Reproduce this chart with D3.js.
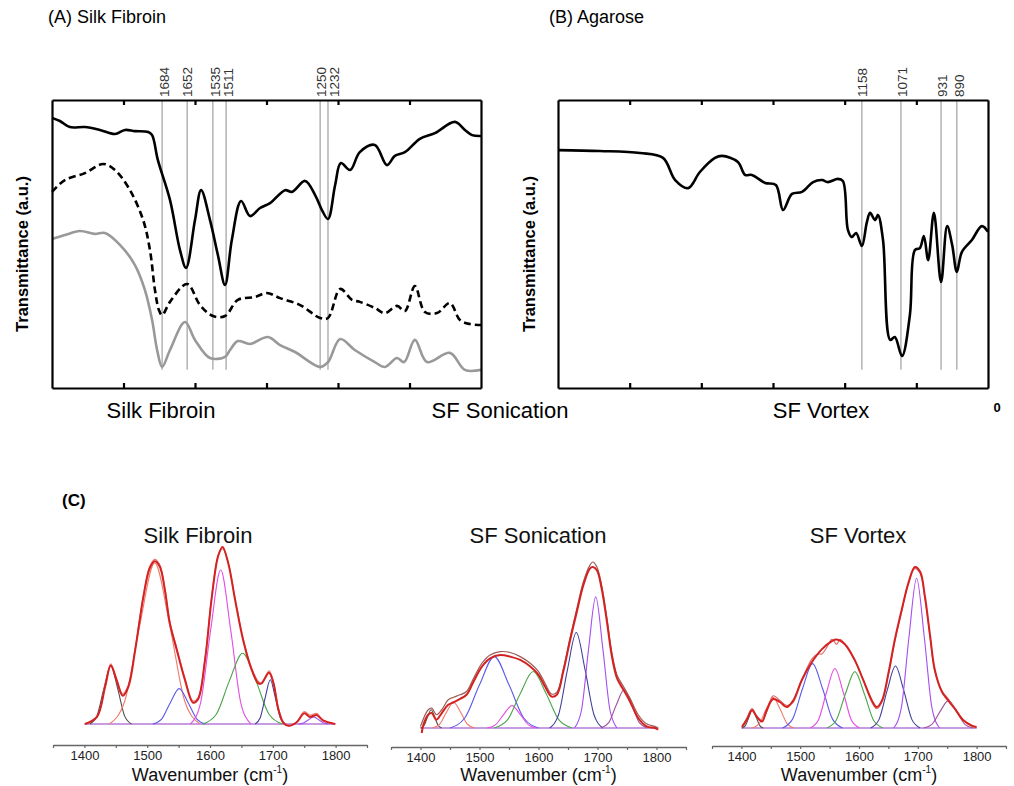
<!DOCTYPE html>
<html>
<head>
<meta charset="utf-8">
<script src="https://cdn.jsdelivr.net/npm/d3@7"></script>
<style>
  body { margin: 0; background: #fff; }
  svg { font-family: "Liberation Sans", Arial, sans-serif; }
</style>
</head>
<body>
<div id="chart"></div>
<script>
// ---- Panel A / B : FTIR transmittance spectra [wavenumber, T (a.u.)]
const silkFibroin = [[2000,93.8],[1978,92.7],[1950,90.6],[1908,90.6],[1866,89.6],[1824,88.2],[1796,89.6],[1768,89.2],[1731,88.9],[1720,87.8],[1704,79.2],[1670,65.3],[1642,47.9],[1625,41.7],[1600,58.3],[1583,68.7],[1558,58.3],[1536,46.2],[1516,35.8],[1497,51.4],[1471,64.9],[1446,59.7],[1418,62.5],[1390,64.2],[1348,68.7],[1329,68.1],[1292,71.9],[1264,67.0],[1245,61.8],[1228,58.7],[1208,70.5],[1192,78.1],[1166,75.7],[1139,81.9],[1097,84.4],[1063,77.4],[1041,80.6],[1013,81.9],[971,86.5],[929,88.5],[873,92.4],[845,89.6],[825,87.8],[800,87.5]];
const sfSonication = [[2000,68.1],[1964,72.2],[1908,74.6],[1857,77.8],[1824,75.7],[1782,68.7],[1745,58.3],[1726,47.9],[1712,34.0],[1701,27.1],[1692,25.3],[1670,29.9],[1622,36.1],[1586,28.8],[1550,25.0],[1516,25.0],[1480,30.6],[1432,31.6],[1399,33.0],[1362,31.2],[1306,28.8],[1250,24.3],[1228,24.3],[1194,34.4],[1161,30.6],[1139,29.9],[1097,27.8],[1069,26.0],[1035,28.5],[1013,26.7],[985,35.4],[957,26.4],[923,26.0],[887,29.5],[859,23.6],[831,22.2],[800,21.9]];
const sfVortex = [[2000,51.7],[1964,53.1],[1922,54.5],[1880,53.5],[1852,53.8],[1810,49.7],[1768,42.7],[1740,34.0],[1720,23.6],[1706,13.2],[1692,7.3],[1670,13.2],[1628,22.9],[1600,16.7],[1558,10.4],[1516,10.8],[1502,13.2],[1480,16.3],[1446,15.3],[1396,17.7],[1362,14.9],[1320,12.5],[1250,7.3],[1228,9.0],[1194,17.0],[1153,13.2],[1097,9.0],[1069,7.3],[1035,10.4],[1015,9.0],[985,16.7],[951,9.0],[887,12.2],[845,6.3],[800,6.3]];
const agarose = [[2000,82.6],[1883,82.3],[1771,81.6],[1707,79.9],[1673,72.2],[1637,69.4],[1604,75.0],[1562,79.9],[1542,80.6],[1498,78.5],[1478,74.0],[1459,74.0],[1422,71.2],[1392,70.5],[1372,61.8],[1347,67.4],[1319,68.1],[1288,71.5],[1263,72.2],[1247,71.5],[1219,72.6],[1205,71.9],[1191,54.9],[1180,52.4],[1168,53.8],[1152,49.3],[1138,57.6],[1129,60.8],[1115,58.3],[1107,60.1],[1093,51.4],[1073,16.7],[1060,17.7],[1040,11.1],[1018,25.3],[1004,47.9],[990,48.6],[979,52.8],[967,44.4],[951,60.8],[931,36.8],[914,56.2],[900,49.7],[887,40.3],[873,47.2],[845,51.4],[817,56.2],[800,54.2]];

const frameTicks = [1800, 1600, 1400, 1200, 1000];
const markPosA = [1692, 1622, 1550, 1513, 1250, 1228];
const markLabelPosA = [1686, 1622, 1544, 1508, 1246, 1212];
const markLabelA = ["1684", "1652", "1535", "1511", "1250", "1232"];
const markPosB = [1152, 1043, 931, 887];
const markLabelPosB = [1152, 1040, 928, 880];
const markLabelB = ["1158", "1071", "931", "890"];
const sampleNames = ["Silk Fibroin", "SF Sonication", "SF Vortex"];

// ---- Panel C : amide band deconvolution [wavenumber, intensity]
const fitTicks = [1350, 1400, 1450, 1500, 1550, 1600, 1650, 1700, 1750, 1800, 1850];

const measuredSF = [[1400,0],[1420,.04],[1433,.22],[1442,.34],[1451,.26],[1461,.17],[1470,.22],[1481,.43],[1494,.73],[1504,.89],[1512,.93],[1520,.90],[1528,.77],[1536,.58],[1547,.43],[1560,.26],[1573,.13],[1581,.15],[1592,.37],[1603,.73],[1613,.95],[1620,.99],[1629,.91],[1640,.71],[1653,.48],[1666,.32],[1677,.24],[1682,.23],[1694,.30],[1701,.24],[1709,.09],[1717,.01],[1725,-.01],[1738,.01],[1750,.07],[1759,.05],[1770,.06],[1780,.02],[1800,0]];
const fitSF = [[1401,0],[1420,.04],[1433,.21],[1442,.33],[1451,.25],[1461,.16],[1470,.21],[1481,.42],[1494,.72],[1504,.88],[1512,.92],[1520,.89],[1528,.76],[1536,.57],[1547,.42],[1560,.25],[1573,.12],[1581,.14],[1592,.36],[1603,.72],[1613,.95],[1620,1.0],[1629,.91],[1640,.70],[1653,.47],[1666,.31],[1677,.23],[1682,.23],[1694,.29],[1701,.23],[1709,.08],[1717,.005],[1725,-.01],[1738,.01],[1750,.06],[1759,.04],[1770,.05],[1780,.02],[1799,0]];
const peaksSF = [
  [[1409,0],[1420,.046],[1431,.20],[1442,.33],[1453,.20],[1464,.046],[1475,0]],
  [[1440,0],[1464,.127],[1488,.555],[1512,.91],[1536,.555],[1560,.127],[1584,0]],
  [[1509,0],[1523,.028],[1537,.122],[1551,.20],[1565,.122],[1579,.028],[1593,0]],
  [[1569,0],[1585,.12],[1601,.53],[1617,.87],[1633,.53],[1649,.12],[1665,0]],
  [[1589,0],[1610,.055],[1631,.245],[1652,.40],[1673,.245],[1694,.055],[1715,0]],
  [[1672,0],[1680,.035],[1688,.15],[1696,.25],[1704,.15],[1712,.035],[1720,0]],
  [[1741,0],[1749,.006],[1757,.024],[1765,.04],[1773,.024],[1781,.006],[1789,0]]
];
const peakColorsSF = ["#505050", "#f07a6a", "#5a5aea", "#e34ee3", "#4aa54a", "#3f3f9a", "#a64ef0"];

const measuredSon = [[1400,.01],[1413,.11],[1419,.12],[1427,.08],[1436,.11],[1447,.17],[1456,.185],[1467,.2],[1478,.22],[1490,.3],[1504,.39],[1518,.44],[1535,.46],[1552,.455],[1569,.43],[1586,.39],[1600,.34],[1611,.27],[1622,.205],[1631,.215],[1642,.355],[1653,.535],[1665,.72],[1676,.88],[1687,.98],[1692,1.0],[1699,.97],[1707,.86],[1716,.66],[1724,.46],[1733,.32],[1744,.25],[1755,.18],[1769,.08],[1783,.025],[1797,.01],[1803,0]];
const fitSon = [[1402,-.03],[1405,.02],[1413,.08],[1419,.09],[1427,.05],[1436,.09],[1447,.14],[1456,.155],[1467,.175],[1478,.2],[1490,.28],[1504,.37],[1518,.42],[1535,.44],[1552,.43],[1569,.41],[1586,.37],[1600,.32],[1611,.25],[1622,.19],[1631,.2],[1642,.34],[1653,.52],[1665,.70],[1676,.86],[1687,.96],[1692,.97],[1699,.95],[1707,.84],[1716,.64],[1724,.44],[1733,.30],[1744,.23],[1755,.16],[1769,.06],[1783,.01],[1797,0],[1803,-.01]];
const peaksSon = [
  [[1400,0],[1406,.015],[1412,.067],[1418,.11],[1424,.067],[1430,.015],[1436,0]],
  [[1420,0],[1432,.021],[1444,.095],[1456,.155],[1468,.095],[1480,.021],[1492,0]],
  [[1450,0],[1475,.06],[1500,.26],[1525,.43],[1550,.26],[1575,.06],[1600,0]],
  [[1513,0],[1527,.019],[1541,.082],[1555,.135],[1569,.082],[1583,.019],[1597,0]],
  [[1525,0],[1547,.047],[1569,.207],[1591,.34],[1613,.207],[1635,.047],[1657,0]],
  [[1619,0],[1634,.08],[1649,.35],[1664,.575],[1679,.35],[1694,.08],[1709,0]],
  [[1661,0],[1673,.11],[1685,.48],[1697,.79],[1709,.48],[1721,.11],[1733,0]],
  [[1706,0],[1719,.032],[1732,.14],[1745,.23],[1758,.14],[1771,.032],[1784,0]]
];
const peakColorsSon = ["#505050", "#f07a6a", "#5a5aea", "#e34ee3", "#4aa54a", "#3f3f9a", "#a64ef0", "#a0529a"];

const measuredVor = [[1401,.01],[1409,.06],[1418,.12],[1426,.075],[1435,.045],[1443,.1],[1454,.2],[1466,.17],[1477,.14],[1488,.16],[1503,.30],[1520,.43],[1530,.46],[1537,.46],[1545,.50],[1554,.55],[1562,.52],[1568,.55],[1576,.52],[1593,.42],[1607,.30],[1622,.16],[1630,.12],[1639,.16],[1650,.33],[1661,.54],[1673,.73],[1684,.90],[1695,.99],[1704,.96],[1712,.81],[1721,.56],[1729,.35],[1741,.23],[1752,.18],[1763,.12],[1777,.05],[1792,.01],[1800,0]];
const fitVor = [[1401,.006],[1409,.05],[1418,.11],[1426,.07],[1435,.04],[1443,.11],[1454,.18],[1466,.16],[1477,.13],[1488,.17],[1503,.30],[1520,.41],[1537,.49],[1554,.54],[1562,.55],[1576,.52],[1593,.42],[1607,.30],[1622,.17],[1630,.13],[1639,.17],[1650,.34],[1661,.55],[1673,.74],[1684,.90],[1695,1.0],[1704,.97],[1712,.82],[1721,.57],[1729,.36],[1741,.225],[1752,.17],[1763,.12],[1777,.05],[1792,.015],[1800,.006]];
const peaksVor = [
  [[1401,0],[1407,.016],[1413,.07],[1419,.115],[1425,.07],[1431,.016],[1437,0]],
  [[1418,0],[1430,.026],[1442,.116],[1454,.19],[1466,.116],[1478,.026],[1490,0]],
  [[1470,0],[1487,.055],[1504,.245],[1521,.40],[1538,.245],[1555,.055],[1572,0]],
  [[1517,0],[1531,.05],[1545,.225],[1559,.37],[1573,.225],[1587,.05],[1601,0]],
  [[1545,0],[1561,.047],[1577,.213],[1593,.35],[1609,.213],[1625,.047],[1641,0]],
  [[1620,0],[1634,.052],[1648,.235],[1662,.385],[1676,.235],[1690,.052],[1704,0]],
  [[1659,0],[1672,.126],[1685,.565],[1698,.93],[1711,.565],[1724,.126],[1737,0]],
  [[1710,0],[1724,.023],[1738,.103],[1752,.17],[1766,.103],[1780,.023],[1794,0]]
];
const peakColorsVor = ["#505050", "#f07a6a", "#5a5aea", "#e34ee3", "#4aa54a", "#3f3f9a", "#a64ef0", "#a0529a"];

const width = 1014;
const height = 786;

const svg = d3.select("#chart").append("svg")
  .attr("width", width)
  .attr("height", height);

// ---------- top spectra panels
function drawSpectrumPanel(opt) {
  const x = d3.scaleLinear().domain([2000, 800]).range([opt.left, opt.right]);
  const y = d3.scaleLinear().domain([0, 100]).range([388, 100]);
  const g = svg.append("g");

  // marker lines and their labels
  opt.marks.forEach((wn, i) => {
    g.append("line")
      .attr("x1", x(wn)).attr("x2", x(wn))
      .attr("y1", y(100)).attr("y2", y(6.3))
      .attr("stroke", "#a0a0a0").attr("stroke-width", 1.2);
    g.append("text")
      .attr("transform", `translate(${x(opt.labelPos[i]) + 4.8}, 97) rotate(-90)`)
      .attr("font-size", 13.5)
      .attr("fill", "#333")
      .text(opt.markLabels[i]);
  });

  const line = d3.line()
    .x(d => x(d[0]))
    .y(d => y(d[1]))
    .curve(d3.curveCatmullRom.alpha(0.5));

  opt.series.forEach(s => {
    g.append("path")
      .datum(s.data)
      .attr("fill", "none")
      .attr("stroke", s.color)
      .attr("stroke-width", 2.6)
      .attr("stroke-dasharray", s.dash || null)
      .attr("d", line);
  });

  // frame with inward ticks
  const bottom = g.append("g")
    .attr("transform", `translate(0, ${y(0)})`)
    .call(d3.axisBottom(x).tickValues(frameTicks).tickSizeInner(-5).tickSizeOuter(0).tickFormat(""));
  const top = g.append("g")
    .attr("transform", `translate(0, ${y(100)})`)
    .call(d3.axisTop(x).tickValues(frameTicks).tickSizeInner(-5).tickSizeOuter(0).tickFormat(""));
  const left = g.append("g")
    .attr("transform", `translate(${opt.left}, 0)`)
    .call(d3.axisLeft(y).tickValues([]).tickSizeOuter(0));
  const right = g.append("g")
    .attr("transform", `translate(${opt.right}, 0)`)
    .call(d3.axisRight(y).tickValues([]).tickSizeOuter(0));
  [bottom, top, left, right].forEach(a => {
    a.selectAll("path, line").attr("stroke", "#000").attr("stroke-width", 2.2);
  });

  g.append("text")
    .attr("transform", `translate(${opt.ylabelX}, 254) rotate(-90)`)
    .attr("text-anchor", "middle")
    .attr("font-size", 16.5)
    .attr("font-weight", "bold")
    .text("Transmittance (a.u.)");

  g.append("text")
    .attr("x", opt.titleX).attr("y", 23)
    .attr("font-size", 18)
    .text(opt.title);
}

drawSpectrumPanel({
  left: 52, right: 481, ylabelX: 28, titleX: 48,
  title: "(A) Silk Fibroin",
  marks: markPosA, labelPos: markLabelPosA, markLabels: markLabelA,
  series: [
    { data: silkFibroin, color: "#000" },
    { data: sfSonication, color: "#000", dash: "7,4" },
    { data: sfVortex, color: "#999" }
  ]
});

drawSpectrumPanel({
  left: 558, right: 988, ylabelX: 535, titleX: 549,
  title: "(B) Agarose",
  marks: markPosB, labelPos: markLabelPosB, markLabels: markLabelB,
  series: [ { data: agarose, color: "#000" } ]
});

// leftover sample labels under the top panels
const nameX = [161, 500, 821];
sampleNames.forEach((name, i) => {
  svg.append("text")
    .attr("x", nameX[i]).attr("y", 418)
    .attr("text-anchor", "middle")
    .attr("font-size", 22)
    .text(name);
});
svg.append("text")
  .attr("x", 997).attr("y", 412)
  .attr("text-anchor", "middle")
  .attr("font-size", 13)
  .attr("font-weight", "bold")
  .text("0");

// ---------- panel C : deconvolution plots
svg.append("text")
  .attr("x", 62).attr("y", 506)
  .attr("font-size", 17)
  .attr("font-weight", "bold")
  .text("(C)");

function drawFitPanel(opt) {
  const x = d3.scaleLinear().domain([1350, 1850]).range([opt.x0, opt.x1]);
  const y = d3.scaleLinear().domain([0, 1]).range([opt.base, opt.top]);
  const g = svg.append("g");

  const peakLine = d3.line()
    .x(d => x(d[0]))
    .y(d => y(d[1]))
    .curve(d3.curveMonotoneX);
  const specLine = d3.line()
    .x(d => x(d[0]))
    .y(d => y(d[1]))
    .curve(d3.curveCatmullRom.alpha(0.5));

  // flat baseline of the fit
  g.append("line")
    .attr("x1", x(1400)).attr("x2", x(1800))
    .attr("y1", y(0)).attr("y2", y(0))
    .attr("stroke", "#b77ad6").attr("stroke-width", 1.3);

  opt.peaks.forEach((p, i) => {
    g.append("path")
      .datum(p)
      .attr("fill", "none")
      .attr("stroke", opt.colors[i])
      .attr("stroke-width", 1.1)
      .attr("d", peakLine);
  });

  g.append("path")
    .datum(opt.measured)
    .attr("fill", "none")
    .attr("stroke", opt.measuredColor)
    .attr("stroke-width", 1.2)
    .attr("d", specLine);

  g.append("path")
    .datum(opt.fit)
    .attr("fill", "none")
    .attr("stroke", "#d42222")
    .attr("stroke-width", 2)
    .attr("d", specLine);

  const axis = g.append("g")
    .attr("transform", `translate(0, ${opt.axisY})`)
    .call(d3.axisBottom(x)
      .tickValues(fitTicks)
      .tickSize(3)
      .tickSizeOuter(0)
      .tickPadding(3)
      .tickFormat(d => (d % 100 === 0 && d >= 1400 && d <= 1800) ? d : ""));
  axis.select(".domain").attr("stroke", "#666").attr("stroke-width", 1.5);
  axis.selectAll(".tick line").attr("stroke", "#666").attr("stroke-width", 1.2);
  axis.selectAll(".tick text")
    .attr("font-size", 13)
    .attr("fill", "#222")
    .attr("font-family", "Liberation Sans, Arial, sans-serif");

  const lab = g.append("text")
    .attr("x", (opt.x0 + opt.x1) / 2).attr("y", 781)
    .attr("text-anchor", "middle")
    .attr("font-size", 18)
    .attr("fill", "#111");
  lab.append("tspan").text("Wavenumber (cm");
  lab.append("tspan").attr("font-size", 10).attr("dy", -8).text("-1");
  lab.append("tspan").attr("dy", 8).text(")");

  g.append("text")
    .attr("x", opt.titleX).attr("y", 543)
    .attr("text-anchor", "middle")
    .attr("font-size", 22)
    .attr("fill", "#111")
    .text(opt.title);
}

drawFitPanel({
  x0: 53, x1: 367, base: 724, top: 547, axisY: 745, titleX: 198,
  title: sampleNames[0],
  peaks: peaksSF, colors: peakColorsSF,
  measured: measuredSF, measuredColor: "#ea7a74", fit: fitSF
});
drawFitPanel({
  x0: 391, x1: 686, base: 728, top: 562, axisY: 747, titleX: 538,
  title: sampleNames[1],
  peaks: peaksSon, colors: peakColorsSon,
  measured: measuredSon, measuredColor: "#9c5a52", fit: fitSon
});
drawFitPanel({
  x0: 712, x1: 1006, base: 728, top: 567, axisY: 746, titleX: 858,
  title: sampleNames[2],
  peaks: peaksVor, colors: peakColorsVor,
  measured: measuredVor, measuredColor: "#d9706a", fit: fitVor
});
</script>
</body>
</html>
